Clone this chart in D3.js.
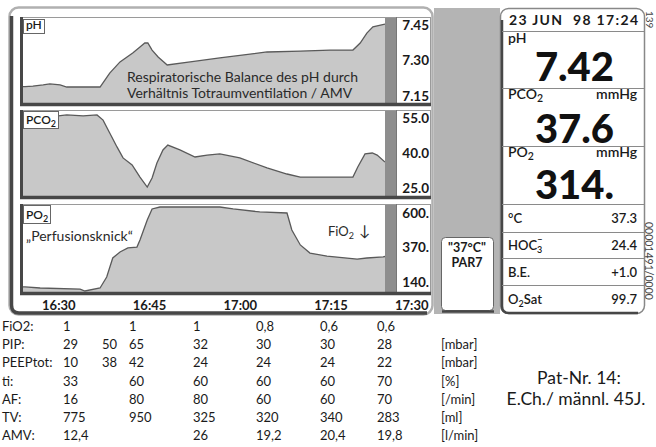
<!DOCTYPE html>
<html><head><meta charset="utf-8">
<script src="https://cdn.jsdelivr.net/npm/d3@7"></script>
<style>
html,body{margin:0;padding:0;background:#fff;}
svg{display:block;font-family:Lato,"Open Sans",sans-serif;}
</style></head><body>
<svg id="c" width="656" height="447"></svg>
<script>
// ---- data (time = minutes after 16:30) ----
const xTickMinutes = [0, 15, 30, 45, 60];
const xTickLabels = ["16:30", "16:45", "17:00", "17:15", "17:30"];

const phTime   = [-6, -5.5, -4.2, -2.5, -1.4, 0.3, 1.4, 6.9, 8.5, 10.2, 12.3, 13.5, 14.3, 14.8, 15.5, 16.5, 18, 21.8, 26.7, 34.5, 40, 44.9, 48.7, 49.9, 51, 52, 54];
const phValues = [7.19, 7.19, 7.192, 7.197, 7.201, 7.197, 7.188, 7.188, 7.247, 7.294, 7.332, 7.357, 7.374, 7.374, 7.344, 7.315, 7.281, 7.294, 7.311, 7.336, 7.34, 7.344, 7.344, 7.374, 7.416, 7.442, 7.454];
const phTicks = [7.45, 7.30, 7.15];

const pco2Time   = [-6, 0, 1.4, 4.1, 6.4, 7.4, 8.5, 9.7, 10.7, 12.2, 13.5, 14.7, 15.5, 16.3, 17.3, 18.1, 20.1, 22.6, 24.6, 26.7, 30, 34.5, 37.8, 40, 48.7, 49.5, 50.7, 51.9, 52.7, 54];
const pco2Values = [55.9, 55.9, 56.3, 55.9, 56.3, 54.1, 48.6, 42.6, 37.9, 34.9, 29.7, 25.4, 29.3, 35.7, 41.3, 43.4, 41.3, 38.3, 39.1, 39.6, 37.9, 33.6, 31.0, 29.7, 29.7, 34.0, 39.6, 40.0, 39.1, 36.1];
const pco2Ticks = [55, 40, 25];

const po2Time   = [-6, -5.5, -3, 3.6, 4.4, 6.9, 8, 9, 10.2, 11.5, 13, 13.5, 14.7, 15.5, 16.8, 21.3, 23.4, 26.7, 28.9, 33.3, 37.8, 38.6, 40, 41.6, 44.4, 49.4, 51, 53.7, 54];
const po2Values = [107, 107, 100, 93, 80, 100, 173, 300, 340, 367, 373, 420, 553, 627, 640, 640, 640, 640, 627, 607, 600, 487, 387, 333, 313, 293, 300, 307, 310];
const po2Ticks = [600, 370, 140];

const readoutValues = ["7.42", "37.6", "314."];
const smallValues = ["37.3", "24.4", "+1.0", "99.7"];
const headerText = "23 JUN  98 17:24";

const tableLabels = ["FiO2:", "PIP:", "PEEPtot:", "ti:", "AF:", "TV:", "AMV:"];
const tableCol1 = ["1", "29", "10", "33", "16", "775", "12,4"];
const tableCol1b = ["", "50", "38", "", "", "", ""];
const tableCol2 = ["1", "65", "42", "60", "80", "950", ""];
const tableCol3 = ["1", "32", "24", "60", "80", "325", "26"];
const tableCol4 = ["0,8", "30", "24", "60", "60", "320", "19,2"];
const tableCol5 = ["0,6", "30", "24", "60", "60", "340", "20,4"];
const tableCol6 = ["0,6", "28", "22", "70", "70", "283", "19,8"];
const tableUnits = ["", "[mbar]", "[mbar]", "[%]", "[/min]", "[ml]", "[l/min]"];

// ---- drawing ----
const svg = d3.select("#c");
const dark = "#474747";
const ink = "#1a1a1a";
const x = d3.scaleLinear().domain([-6, 54]).range([22, 385]);

// outer frame
svg.append("rect").attr("x", 9.5).attr("y", 7.5).attr("width", 423).attr("height", 307)
  .attr("rx", 9).attr("fill", "#fff").attr("stroke", "#b0b0b0").attr("stroke-width", 2.5);
svg.append("path").attr("d", "M11.5,16 L11.5,305 Q11.5,313 19,313 L427,313")
  .attr("fill", "none").attr("stroke", dark).attr("stroke-width", 3.5);

const panels = [
  {T: 17, B: 103, domain: [7.15, 7.45], range: [96, 25], ticks: phTicks, fmt: d3.format(".2f"), time: phTime, values: phValues},
  {T: 110, B: 196, domain: [25, 55], range: [188, 118], ticks: pco2Ticks, fmt: d3.format(".1f"), time: pco2Time, values: pco2Values},
  {T: 204, B: 292, domain: [140, 600], range: [282, 213], ticks: po2Ticks, fmt: d => d + ".", time: po2Time, values: po2Values}
];

panels.forEach((p, i) => {
  const g = svg.append("g");
  g.append("rect").attr("x", 20.5).attr("y", p.T + 0.5).attr("width", 410).attr("height", p.B - p.T)
    .attr("fill", "#fff").attr("stroke", "#9a9a9a").attr("stroke-width", 1);
  const y = d3.scaleLinear().domain(p.domain).range(p.range);
  const clipId = "clip" + i;
  svg.append("clipPath").attr("id", clipId).append("rect")
    .attr("x", 22).attr("y", p.T + 1).attr("width", 363).attr("height", p.B - p.T - 1);
  const pts = p.time.map((t, k) => [t, p.values[k]]);
  const area = d3.area().x(d => x(d[0])).y0(p.B).y1(d => y(d[1]));
  const line = d3.line().x(d => x(d[0])).y(d => y(d[1]));
  const pg = g.append("g").attr("clip-path", `url(#${clipId})`);
  pg.append("path").datum(pts).attr("d", area).attr("fill", "#c8c8c8");
  pg.append("path").datum(pts).attr("d", line).attr("fill", "none").attr("stroke", "#5a5a5a").attr("stroke-width", 1.3);
  // gray bar
  g.append("rect").attr("x", 385).attr("y", p.T + 1).attr("width", 11).attr("height", p.B - p.T)
    .attr("fill", "#8e8e8e");
  g.append("line").attr("x1", 396.5).attr("x2", 396.5).attr("y1", p.T).attr("y2", p.B).attr("stroke", "#777");
  // right axis labels
  const ax = g.append("g").attr("transform", "translate(396,0)")
    .call(d3.axisRight(y).tickValues(p.ticks).tickSize(0).tickFormat(p.fmt));
  ax.select(".domain").remove();
  ax.selectAll("text").attr("x", 33).attr("text-anchor", "end")
    .attr("font-family", "Lato, sans-serif").attr("font-size", 13.5).attr("font-weight", 700).attr("fill", ink);
  // shadows
  g.append("line").attr("x1", 21.5).attr("x2", 21.5).attr("y1", p.T).attr("y2", p.B + 3)
    .attr("stroke", dark).attr("stroke-width", 3);
  g.append("line").attr("x1", 20).attr("x2", 431).attr("y1", p.B + 1.5).attr("y2", p.B + 1.5)
    .attr("stroke", dark).attr("stroke-width", 3.5);
});

// panel label boxes
function labelBox(bx, by, bw, bh, main, sub) {
  svg.append("rect").attr("x", bx + 0.5).attr("y", by + 0.5).attr("width", bw).attr("height", bh)
    .attr("fill", "#fff").attr("stroke", "#666");
  const t = svg.append("text").attr("x", bx + 3).attr("y", by + bh - 4)
    .attr("font-size", 12).attr("font-weight", 600).attr("fill", ink).text(main);
  if (sub) t.append("tspan").attr("dy", 3).attr("font-size", 9).text(sub);
}
labelBox(23, 19, 21, 14, "pH");
labelBox(23, 111, 35, 17, "PCO", "2");
labelBox(23, 205, 27, 18, "PO", "2");

// annotations
svg.append("text").attr("x", 127).attr("y", 82).attr("font-size", 14).attr("fill", "#2a2a2a")
  .text("Respiratorische Balance des pH durch");
svg.append("text").attr("x", 127).attr("y", 98).attr("font-size", 14).attr("fill", "#2a2a2a")
  .text("Verhältnis Totraumventilation / AMV");
svg.append("text").attr("x", 26).attr("y", 241).attr("font-size", 14).attr("fill", "#2a2a2a")
  .text("„Perfusionsknick“");
const fio = svg.append("text").attr("x", 328).attr("y", 236).attr("font-size", 13).attr("fill", "#2a2a2a").text("FiO");
fio.append("tspan").attr("dy", 3).attr("font-size", 9).text("2");
fio.append("tspan").attr("dy", -3).attr("dx", 5).attr("font-size", 15).text("↓");

// x axis labels
const xa = svg.append("g").attr("transform", "translate(0,297)")
  .call(d3.axisBottom(x).tickValues(xTickMinutes).tickSize(0).tickFormat((d, i) => xTickLabels[i]));
xa.select(".domain").remove();
xa.selectAll("text").attr("font-family", "Lato, sans-serif").attr("font-size", 13).attr("font-weight", 700)
  .attr("fill", ink).attr("dy", "0.8em");
xa.selectAll(".tick").filter(d => d === 60).select("text")
  .attr("text-anchor", "end").attr("x", 428 - x(60));

// middle column
svg.append("rect").attr("x", 434).attr("y", 8).attr("width", 66).attr("height", 306).attr("fill", "#b4b4b4");
svg.append("rect").attr("x", 441.5).attr("y", 237.5).attr("width", 52).attr("height", 73).attr("rx", 4)
  .attr("fill", "#fff").attr("stroke", "#666");
svg.append("path").attr("d", "M442,311.5 L494,311.5").attr("stroke", dark).attr("stroke-width", 2.5);
svg.append("text").attr("x", 467).attr("y", 252).attr("text-anchor", "middle").attr("font-size", 12.5)
  .attr("font-weight", 700).attr("fill", ink).text("\"37°C\"");
svg.append("text").attr("x", 467).attr("y", 267).attr("text-anchor", "middle").attr("font-size", 12.5)
  .attr("font-weight", 700).attr("fill", ink).text("PAR7");

// right readout panel
svg.append("rect").attr("x", 500.5).attr("y", 8.5).attr("width", 144).attr("height", 305).attr("rx", 8)
  .attr("fill", "#fff").attr("stroke", "#888").attr("stroke-width", 1.5);
svg.append("path").attr("d", "M502,20 L502,306 Q502,313 509,313 L638,313")
  .attr("fill", "none").attr("stroke", dark).attr("stroke-width", 2.5);
[31, 88, 146, 204, 232, 258, 285].forEach(yy => {
  svg.append("line").attr("x1", 502).attr("x2", 644).attr("y1", yy + 0.5).attr("y2", yy + 0.5)
    .attr("stroke", "#8a8a8a").attr("stroke-width", 1);
});
svg.append("text").attr("x", 509).attr("y", 25).attr("font-size", 14).attr("font-weight", 700)
  .attr("fill", ink).style("white-space", "pre").attr("textLength", 129).attr("lengthAdjust", "spacing")
  .text(headerText);

function rlabel(xx, yy, parts, size) {
  const t = svg.append("text").attr("x", xx).attr("y", yy).attr("font-size", size).attr("font-weight", 600).attr("fill", ink);
  parts.forEach(([s, kind]) => {
    const ts = t.append("tspan").text(s);
    if (kind === "sub") ts.attr("dy", 3).attr("font-size", size * 0.75);
  });
  return t;
}
rlabel(508, 43, [["pH"]], 14);
rlabel(508, 99, [["PCO"], ["2", "sub"]], 14);
rlabel(508, 157, [["PO"], ["2", "sub"]], 14);
svg.append("text").attr("x", 637).attr("y", 99).attr("text-anchor", "end").attr("font-size", 14).attr("font-weight", 600).attr("fill", ink).text("mmHg");
svg.append("text").attr("x", 637).attr("y", 157).attr("text-anchor", "end").attr("font-size", 14).attr("font-weight", 600).attr("fill", ink).text("mmHg");

const bigY = [81, 143, 199];
readoutValues.forEach((v, i) => {
  svg.append("text").attr("x", 614).attr("y", bigY[i]).attr("text-anchor", "end")
    .attr("font-size", 40).attr("font-weight", 900).attr("fill", "#111").text(v);
});

const smallY = [223, 250, 277, 304];
rlabel(508, smallY[0], [["°C"]], 13);
const hoc = rlabel(508, smallY[1], [["HOC"]], 13);
hoc.append("tspan").attr("dy", 3).attr("font-size", 9).text("3");
hoc.append("tspan").attr("dx", -5).attr("dy", -10).attr("font-size", 9).text("−");
const o2 = rlabel(508, smallY[3], [["O"]], 13);
o2.append("tspan").attr("dy", 3).attr("font-size", 9).text("2");
o2.append("tspan").attr("dy", -3).text("Sat");
rlabel(508, smallY[2], [["B.E."]], 13);
smallValues.forEach((v, i) => {
  svg.append("text").attr("x", 637).attr("y", smallY[i]).attr("text-anchor", "end")
    .attr("font-size", 13).attr("font-weight", 600).attr("fill", ink).text(v);
});

// rotated side texts
svg.append("text").attr("transform", "translate(646,11) rotate(90)").attr("font-size", 10)
  .attr("fill", "#444").text("139");
svg.append("text").attr("transform", "translate(645,222) rotate(90)").attr("font-size", 10.5)
  .attr("fill", "#444").text("00001491/0000");

// table
const cols = [tableCol1, tableCol1b, tableCol2, tableCol3, tableCol4, tableCol5, tableCol6, tableUnits];
const colX = [63, 102, 129, 193, 256, 320, 377, 441];
const rowY = d3.range(7).map(i => 331 + i * 18.2);
tableLabels.forEach((l, i) => {
  svg.append("text").attr("x", 2).attr("y", rowY[i]).attr("font-size", 13).attr("fill", ink).text(l);
});
cols.forEach((c, j) => {
  c.forEach((v, i) => {
    if (!v) return;
    svg.append("text").attr("x", colX[j]).attr("y", rowY[i]).attr("font-size", 13).attr("fill", ink).text(v);
  });
});
svg.append("text").attr("x", 579).attr("y", 384).attr("text-anchor", "middle").attr("font-size", 17.5)
  .attr("fill", ink).text("Pat-Nr. 14:");
svg.append("text").attr("x", 576).attr("y", 405).attr("text-anchor", "middle").attr("font-size", 17.5)
  .attr("fill", ink).text("E.Ch./ männl. 45J.");
</script>
</body></html>
